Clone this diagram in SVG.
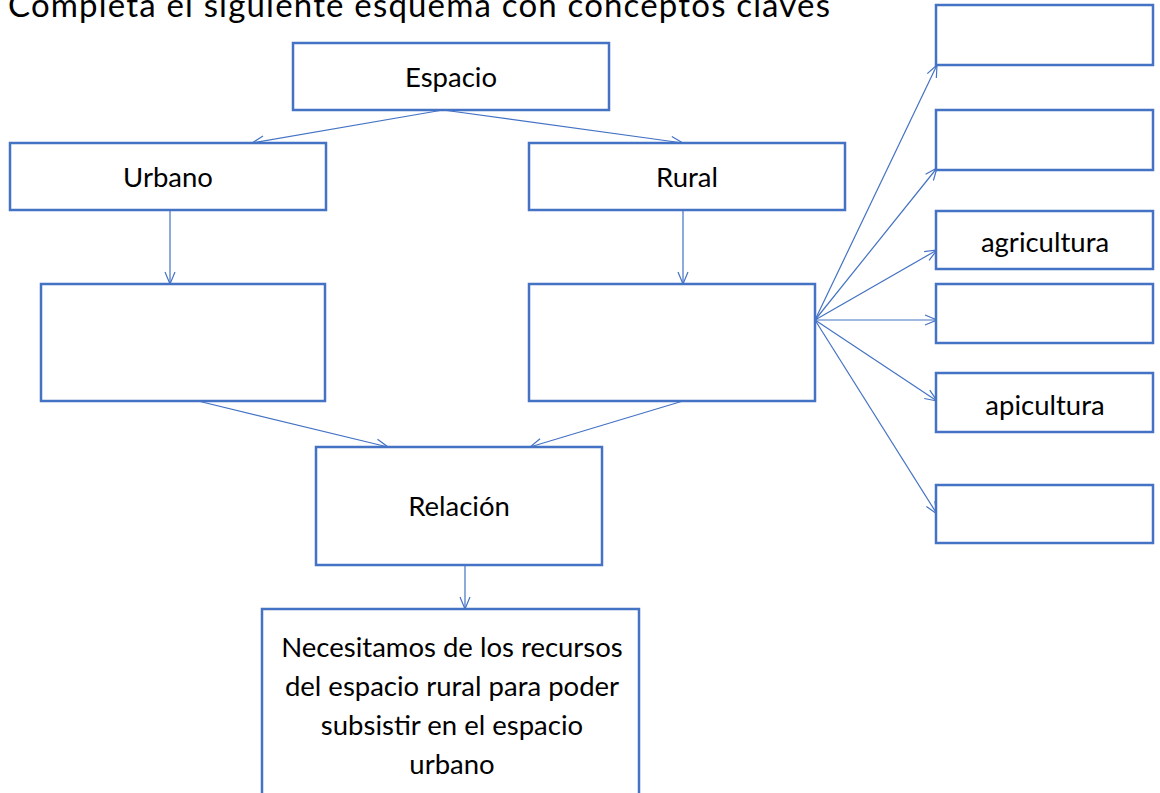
<svg xmlns="http://www.w3.org/2000/svg" width="1160" height="793" viewBox="0 0 1160 793">
<defs>
<marker id="arr" viewBox="0 0 14 12" refX="13" refY="6" markerWidth="14" markerHeight="12" markerUnits="userSpaceOnUse" orient="auto">
<path d="M1,1 L13,6 L1,11" fill="none" stroke="#4472C4" stroke-width="1.2"/>
</marker>
</defs>
<style>
.box{fill:#fff;stroke:#4472C4;stroke-width:2.5}
.lbl{font-family:Lato,"Open Sans","Liberation Sans",sans-serif;font-size:27.5px;fill:#000;text-anchor:middle}
.con{stroke:#4472C4;stroke-width:1.2;fill:none;marker-end:url(#arr)}
</style>
<rect width="1160" height="793" fill="#fff"/>
<text x="8" y="17" textLength="822" lengthAdjust="spacing" style="font-family:Lato,'Open Sans','Liberation Sans',sans-serif;font-size:33px;fill:#000">Completa el siguiente esquema con conceptos claves</text>
<g id="connectors">
<line class="con" x1="443" y1="110" x2="252" y2="143"/>
<line class="con" x1="443" y1="110" x2="683" y2="143"/>
<line class="con" x1="170" y1="210" x2="170" y2="284"/>
<line class="con" x1="683" y1="210" x2="683" y2="284"/>
<line class="con" x1="198" y1="401" x2="388" y2="447"/>
<line class="con" x1="683" y1="401" x2="530" y2="447"/>
<line class="con" x1="465" y1="565" x2="465" y2="609"/>
<line class="con" x1="815" y1="320" x2="937" y2="65"/>
<line class="con" x1="815" y1="320" x2="937" y2="168"/>
<line class="con" x1="815" y1="320" x2="937" y2="250"/>
<line class="con" x1="815" y1="320" x2="937" y2="320"/>
<line class="con" x1="815" y1="320" x2="937" y2="401"/>
<line class="con" x1="815" y1="320" x2="937" y2="514"/>
</g>
<g id="espacio"><rect class="box" x="293" y="43" width="316" height="67"/><text class="lbl" x="451" y="87">Espacio</text></g>
<g id="urbano"><rect class="box" x="10" y="143" width="316" height="67"/><text class="lbl" x="168" y="187">Urbano</text></g>
<g id="rural"><rect class="box" x="529" y="143" width="316" height="67"/><text class="lbl" x="687" y="187">Rural</text></g>
<g id="urbano-child"><rect class="box" x="41" y="284" width="284" height="117"/></g>
<g id="rural-child"><rect class="box" x="529" y="284" width="286" height="117"/></g>
<g id="relacion"><rect class="box" x="316" y="447" width="286" height="118"/><text class="lbl" x="459" y="516">Relación</text></g>
<g id="conclusion"><rect class="box" x="262" y="609" width="377" height="200"/>
<text class="lbl" x="452" y="657">Necesitamos de los recursos</text>
<text class="lbl" x="452" y="696">del espacio rural para poder</text>
<text class="lbl" x="452" y="735">subsistir en el espacio</text>
<text class="lbl" x="452" y="774">urbano</text>
</g>
<g id="r1"><rect class="box" x="936" y="5" width="217" height="60"/></g>
<g id="r2"><rect class="box" x="936" y="110" width="217" height="60"/></g>
<g id="r3"><rect class="box" x="936" y="211" width="217" height="58"/><text class="lbl" x="1045" y="252">agricultura</text></g>
<g id="r4"><rect class="box" x="936" y="284" width="217" height="59"/></g>
<g id="r5"><rect class="box" x="936" y="373" width="217" height="59"/><text class="lbl" x="1045" y="415">apicultura</text></g>
<g id="r6"><rect class="box" x="936" y="485" width="217" height="58"/></g>
</svg>
